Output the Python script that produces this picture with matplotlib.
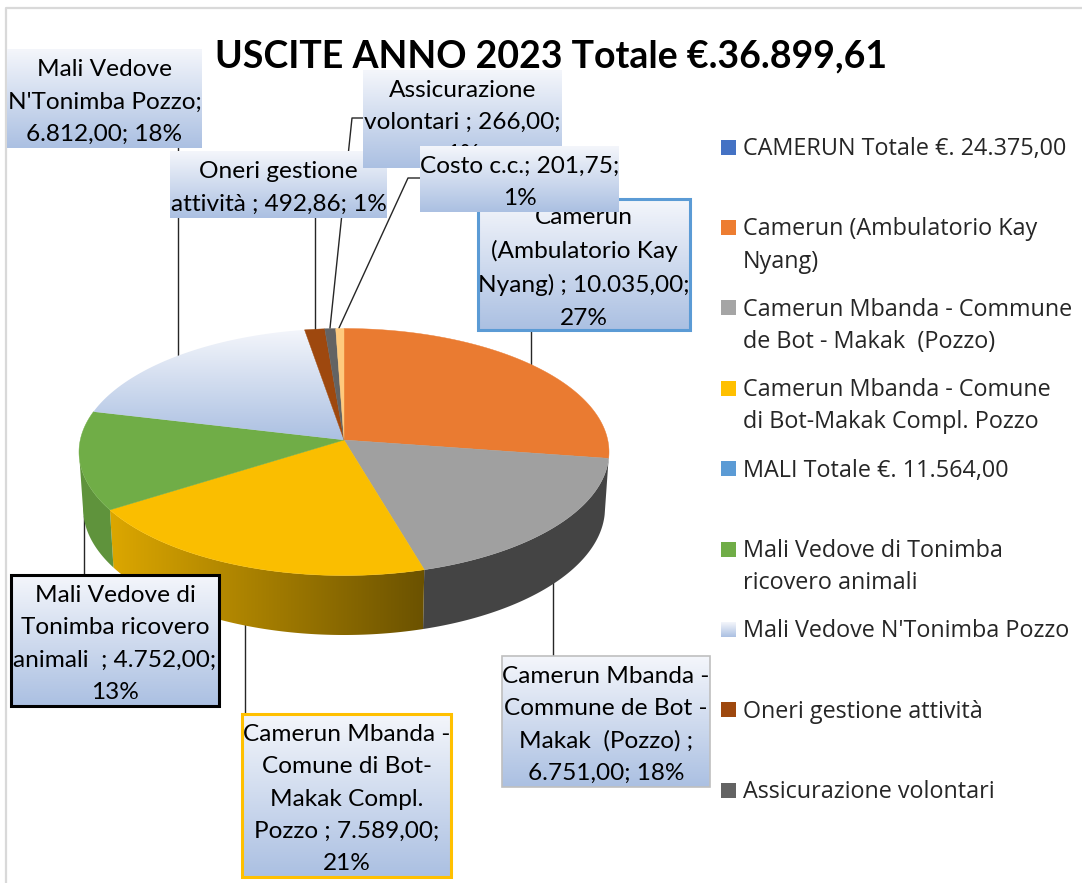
"""Recreate the USCITE ANNO 2023 pie chart."""
import numpy as np
import matplotlib
matplotlib.use("Agg")
import matplotlib.pyplot as plt
from matplotlib.colors import to_rgb
from matplotlib.patches import Polygon, Rectangle

title = "USCITE ANNO 2023 Totale €.36.899,61"

slice_values = [10035.00, 6751.00, 7589.00, 4752.00, 6812.00, 492.86, 266.00, 201.75]
slice_colors = ["#ea7b31", "#a0a0a0", "#fabe00", "#70ad47", None, "#9e480e", "#636363", "#ffca7d"]
side_colors = [None, "#444444", "yellow", "#5f933c", None, None, None, None]

legend_labels = [
    "CAMERUN Totale €. 24.375,00",
    "Camerun (Ambulatorio Kay\nNyang)",
    "Camerun Mbanda - Commune\nde Bot - Makak  (Pozzo)",
    "Camerun Mbanda - Comune\ndi Bot-Makak Compl. Pozzo",
    "MALI Totale €. 11.564,00",
    "Mali Vedove di Tonimba\nricovero animali",
    "Mali Vedove N'Tonimba Pozzo",
    "Oneri gestione attività",
    "Assicurazione volontari",
]
legend_colors = ["#4472c4", "#ed7d31", "#a5a5a5", "#ffc000", "#5b9bd5",
                 "#70ad47", None, "#9e480e", "#636363"]

LIGHT_TOP, LIGHT_BOTTOM = "#f4f6fb", "#abc0e2"

# text, x0, y0, x1, y1, border colour, border width
data_labels = [
    ("Camerun\n(Ambulatorio Kay\nNyang) ; 10.035,00;\n27%", 478, 199, 690, 330, "#5b9bd5", 2.2),
    ("Mali Vedove\nN'Tonimba Pozzo;\n6.812,00; 18%", 7, 49, 202, 148, None, 0),
    ("Oneri gestione\nattività ; 492,86; 1%", 170, 151, 387, 218, None, 0),
    ("Assicurazione\nvolontari ; 266,00;\n1%", 363, 70, 562, 168, None, 0),
    ("Costo c.c.; 201,75;\n1%", 420, 146, 619, 212, None, 0),
    ("Mali Vedove di\nTonimba ricovero\nanimali  ; 4.752,00;\n13%", 11, 575, 219, 706, "black", 2.2),
    ("Camerun Mbanda -\nComune di Bot-\nMakak Compl.\nPozzo ; 7.589,00;\n21%", 242, 714, 451, 877, "#ffc000", 2.2),
    ("Camerun Mbanda -\nCommune de Bot -\nMakak  (Pozzo) ;\n6.751,00; 18%", 502, 656, 710, 787, "#bfbfbf", 1.2),
]

leader_lines = [
    ([178, 178], [148, 356]),
    ([315, 315], [218, 329]),
    ([364, 352, 330], [118, 118, 328]),
    ([420, 408, 339], [178, 178, 328]),
    ([531, 531], [331, 366]),
    ([553, 553], [583, 656]),
    ([245, 245], [625, 714]),
    ([84, 84], [516, 575]),
]

cx, cy, rx, ry = 344, 452, 265, 123.5
apex = (344, 440)
bx, by, brx, bry = 344, 508, 261, 127


def rim_angle(frac):
    """Clockwise fraction from the top, squeezed a bit for the tilted view."""
    phi = 90 - 360 * np.asarray(frac)
    return np.radians(phi + 5 * np.cos(np.radians(phi)))


def gradient_fill(ax, patch, start, end, horizontal=False, zorder=2):
    x0, y0 = patch.get_path().vertices.min(axis=0)
    x1, y1 = patch.get_path().vertices.max(axis=0)
    ramp = np.linspace(0, 1, 256)[:, None, None]
    c0, c1 = np.array(to_rgb(start)), np.array(to_rgb(end))
    img = c0 + (c1 - c0) * ramp
    if horizontal:
        img = img.transpose(1, 0, 2)
    im = ax.imshow(img, extent=(x0, x1, y1, y0), aspect="auto", origin="upper",
                   zorder=zorder, interpolation="bilinear")
    im.set_clip_path(patch)


fig = plt.figure(figsize=(10.82, 8.83), dpi=100)
ax = fig.add_axes([0, 0, 1, 1])
ax.axis("off")

# frame of the chart area
ax.plot([6, 6, 1082], [883, 8, 8], color="#d9d9d9", lw=1.6, zorder=0)

for xs, ys in leader_lines:
    ax.plot(xs, ys, color="#262626", lw=1.0, zorder=1)

# pie
edges = np.cumsum([0] + slice_values) / sum(slice_values)
for i, value in enumerate(slice_values):
    fracs = np.linspace(edges[i], edges[i + 1], 200)
    ang = rim_angle(fracs)
    if side_colors[i]:
        a = ang[np.sin(ang) <= 0]
        top = np.column_stack([cx + rx * np.cos(a), cy - ry * np.sin(a)])
        bot = np.column_stack([bx + brx * np.cos(a), by - bry * np.sin(a)])
        wall = Polygon(np.vstack([top, bot[::-1]]), closed=True, lw=0,
                       fc=side_colors[i] if side_colors[i] != "yellow" else "none", zorder=2)
        ax.add_patch(wall)
        if side_colors[i] == "yellow":
            gradient_fill(ax, wall, "#dca700", "#6b5200", horizontal=True)
    rim = np.column_stack([cx + rx * np.cos(ang), cy - ry * np.sin(ang)])
    face = Polygon(np.vstack([apex, rim]), closed=True, lw=0.3, zorder=3,
                   fc=slice_colors[i] or "none", ec=slice_colors[i] or "none")
    ax.add_patch(face)
    if slice_colors[i] is None:
        gradient_fill(ax, face, LIGHT_TOP, LIGHT_BOTTOM, zorder=3)

# data labels
for n, (text, x0, y0, x1, y1, edge, lw) in enumerate(data_labels):
    z = 5 + n
    box = Rectangle((x0, y0), x1 - x0, y1 - y0, fc="none", ec="none", zorder=z)
    ax.add_patch(box)
    ramp = np.linspace(0, 1, 128)[:, None, None]
    c0, c1 = np.array(to_rgb(LIGHT_TOP)), np.array(to_rgb(LIGHT_BOTTOM))
    ax.imshow(c0 + (c1 - c0) * ramp, extent=(x0, x1, y1, y0), aspect="auto",
              zorder=z, interpolation="bilinear")
    if edge:
        ax.add_patch(Rectangle((x0, y0), x1 - x0, y1 - y0, fc="none", ec=edge, lw=lw, zorder=z))
    ax.text((x0 + x1) / 2, (y0 + y1) / 2 + 3.5, text, ha="center", va="center", ma="center",
            family="Lato", fontsize=17.6, color="black", linespacing=1.66, zorder=z)

# legend
for i, (label, color) in enumerate(zip(legend_labels, legend_colors)):
    y = 147 + i * 80.4
    swatch = Rectangle((721, y - 7.5), 15, 15, fc=color or "none", ec="none", zorder=3)
    ax.add_patch(swatch)
    if color is None:
        ramp = np.linspace(0, 1, 64)[:, None, None]
        c0, c1 = np.array(to_rgb(LIGHT_TOP)), np.array(to_rgb(LIGHT_BOTTOM))
        ax.imshow(c0 + (c1 - c0) * ramp, extent=(721, 736, y + 7.5, y - 7.5), aspect="auto", zorder=3)
    ax.text(743, y - 10, label, ha="left", va="top", family="Open Sans", fontsize=16.8,
            color="#262626", linespacing=1.46, zorder=3)

ax.text(551, 56, title, ha="center", va="center", family="Lato", fontweight="bold",
        fontsize=27, color="black", zorder=20)

ax.set_xlim(0, 1082)
ax.set_ylim(883, 0)
fig.savefig("out.png", dpi=100)
plt.close(fig)
